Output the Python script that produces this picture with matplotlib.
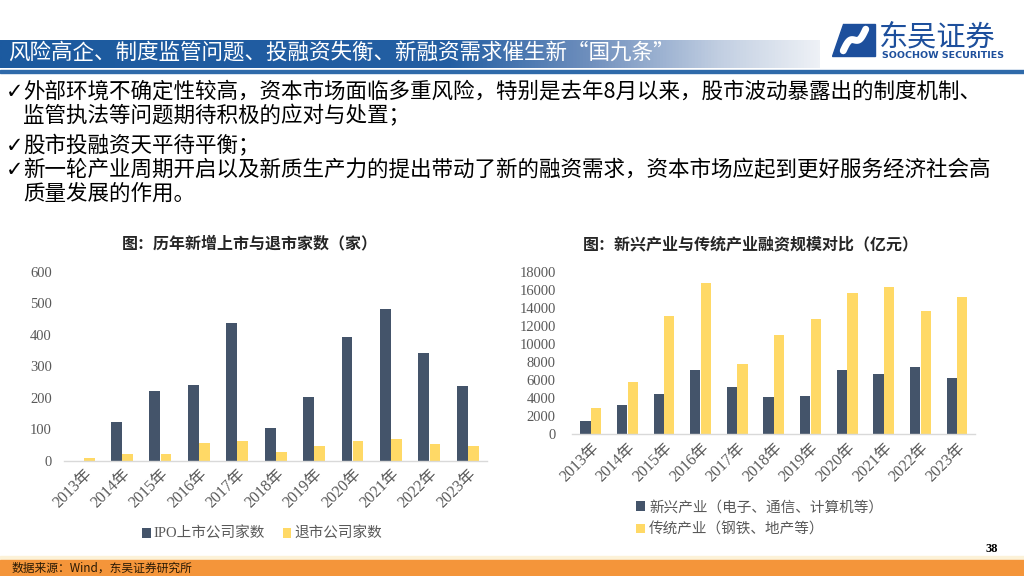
import numpy as np
import matplotlib
matplotlib.use("Agg")
import matplotlib.pyplot as plt
from matplotlib.patches import Rectangle, Polygon
from matplotlib.colors import LinearSegmentedColormap

CJK = ['Noto Sans CJK SC', 'DejaVu Sans']
SERIF_CJK = ['Liberation Serif', 'Noto Sans CJK SC']
plt.rcParams['font.family'] = CJK

# ---------------- data ----------------
years = ['2013年', '2014年', '2015年', '2016年', '2017年', '2018年',
         '2019年', '2020年', '2021年', '2022年', '2023年']
ipo_counts = [0, 124, 220, 240, 436, 103, 201, 394, 481, 341, 236]
delist_counts = [7, 20, 22, 57, 62, 29, 48, 62, 68, 52, 47]
new_industry = [1400, 3200, 4450, 7100, 5250, 4100, 4180, 7100, 6650, 7430, 6250]
trad_industry = [2880, 5730, 13080, 16780, 7730, 10980, 12790, 15640, 16260, 13670, 15190]

left_yticks = [0, 100, 200, 300, 400, 500, 600]
right_yticks = [0, 2000, 4000, 6000, 8000, 10000, 12000, 14000, 16000, 18000]

title_bar = '风险高企、制度监管问题、投融资失衡、新融资需求催生新“国九条”'
bullets = [
    ('✓', '外部环境不确定性较高，资本市场面临多重风险，特别是去年8月以来，股市波动暴露出的制度机制、'),
    ('', '监管执法等问题期待积极的应对与处置；'),
    ('✓', '股市投融资天平待平衡；'),
    ('✓', '新一轮产业周期开启以及新质生产力的提出带动了新的融资需求，资本市场应起到更好服务经济社会高'),
    ('', '质量发展的作用。'),
]
left_title = '图：历年新增上市与退市家数（家）'
right_title = '图：新兴产业与传统产业融资规模对比（亿元）'
left_labels = ['IPO上市公司家数', '退市公司家数']
right_labels = ['新兴产业（电子、通信、计算机等）', '传统产业（钢铁、地产等）']
source_text = '数据来源：Wind，东吴证券研究所'
page_no = '38'

NAVY = '#44546A'
GOLD = '#FFD966'
GRAY = '#595959'

W, H = 1024, 576
fig = plt.figure(figsize=(W / 100, H / 100), dpi=100)
fig.patch.set_facecolor('white')

def fx(px):
    return px / W

def fy(py):
    return 1 - py / H

# ---------------- header bar ----------------
grad_ax = fig.add_axes([0, fy(68), fx(820), 28 / H])
cmap = LinearSegmentedColormap.from_list(
    'bar', [(0, '#1c5a9f'), (0.55, '#245fa3'), (0.72, '#6f8fbd'),
            (0.88, '#c2cfe2'), (1.0, '#eef1f6')])
grad_ax.imshow(np.linspace(0, 1, 512)[None, :], aspect='auto', cmap=cmap,
               extent=[0, 1, 0, 1])
grad_ax.axis('off')
fig.text(fx(8), fy(53), title_bar, color='white', fontsize=15.5,
         va='center', ha='left', family=CJK)
fig.add_artist(Rectangle((0, fy(72.5)), 1, 2.5 / H, transform=fig.transFigure,
                         color='#2f6aaa', zorder=3))

# logo
logo_ax = fig.add_axes([fx(832), fy(58), fx(45), 36 / H])
logo_ax.set_xlim(0, 1)
logo_ax.set_ylim(0, 1)
logo_ax.axis('off')
logo_ax.add_patch(Polygon([(0.0, 0.05), (0.95, 0.05), (0.95, 0.95), (0.25, 0.95)],
                          closed=True, color='#1d4f9c'))
t = np.linspace(0, 1, 100)
sx = 0.25 + 0.5 * t
sy = 0.2 + 0.6 * t + 0.12 * np.sin(2 * np.pi * t)
logo_ax.plot(sx, sy, color='white', lw=5, solid_capstyle='round')
fig.text(fx(879), fy(37), '东吴证券', color='#1d4f9c', fontsize=21,
         va='center', ha='left', family=CJK)
fig.text(fx(882), fy(55), 'SOOCHOW SECURITIES', color='#1d4f9c', fontsize=6.8,
         va='center', ha='left', family=['DejaVu Sans'], fontweight='bold')

# ---------------- bullets ----------------
line_y = [92, 116, 146, 170, 194]
for (mark, txt), yy in zip(bullets, line_y):
    if mark:
        fig.text(fx(6), fy(yy), mark, fontsize=15, va='center', ha='left',
                 family=['DejaVu Sans'], color='black')
    fig.text(fx(23), fy(yy), txt, fontsize=15.5, va='center', ha='left',
             family=CJK, color='black')

# ---------------- charts ----------------
x = np.arange(len(years))
bw = 0.28
off = 0.145
axL = fig.add_axes([fx(64.4), fy(460.7), fx(487 - 64.4), (460.7 - 271.7) / H])
b1 = axL.bar(x - off, ipo_counts, bw, color=NAVY, label=left_labels[0])
b2 = axL.bar(x + off, delist_counts, bw, color=GOLD, label=left_labels[1])
axL.set_xlim(-0.5, len(years) - 0.5)
axL.set_ylim(0, 600)
axL.set_yticks(left_yticks)

axR = fig.add_axes([fx(572.4), fy(434), fx(975.3 - 572.4), (434 - 271.7) / H])
r1 = axR.bar(x - off, new_industry, bw, color=NAVY, label=right_labels[0])
r2 = axR.bar(x + off, trad_industry, bw, color=GOLD, label=right_labels[1])
axR.set_xlim(-0.5, len(years) - 0.5)
axR.set_ylim(0, 18000)
axR.set_yticks(right_yticks)

for ax, pad in ((axL, 9), (axR, 12)):
    for s in ('top', 'right', 'left'):
        ax.spines[s].set_visible(False)
    ax.spines['bottom'].set_color('#d9d9d9')
    ax.spines['bottom'].set_linewidth(1)
    ax.tick_params(axis='both', length=0, colors=GRAY)
    ax.tick_params(axis='y', pad=pad)
    ax.tick_params(axis='x', pad=4)
    ax.set_xticks(x)
    ax.set_xticklabels(years, rotation=45, ha='right', va='top',
                       rotation_mode='anchor', family=SERIF_CJK, fontsize=11.5,
                       color=GRAY)
    for lab in ax.get_yticklabels():
        lab.set_family(['Liberation Serif'])
        lab.set_fontsize(10.5)
        lab.set_color(GRAY)
    ax.set_facecolor('none')

fig.text(fx(250), fy(243), left_title, fontsize=11.5, fontweight='bold',
         ha='center', va='center', family=CJK, color='#262626')
fig.text(fx(751), fy(244), right_title, fontsize=11.5, fontweight='bold',
         ha='center', va='center', family=CJK, color='#262626')

legL = axL.legend(handles=[b1, b2], loc='center', bbox_to_anchor=(0.468, -0.388),
                  ncol=2, frameon=False, handlelength=0.6, handleheight=0.6,
                  handletextpad=0.2, columnspacing=1.2,
                  prop={'family': SERIF_CJK, 'size': 10.5}, labelcolor=GRAY)
legR = axR.legend(handles=[r1, r2], loc='center left', bbox_to_anchor=(0.125, -0.52),
                  ncol=1, frameon=False, handlelength=0.6, handleheight=0.6,
                  handletextpad=0.3, labelspacing=0.55,
                  prop={'family': SERIF_CJK, 'size': 10.5}, labelcolor=GRAY)

# ---------------- footer ----------------
fig.add_artist(Rectangle((0, fy(560)), 1, 4 / H, transform=fig.transFigure,
                         color='#fcf2d8', zorder=1))
fig.add_artist(Rectangle((0, 0), 1, 16 / H, transform=fig.transFigure,
                         color='#F4953A', zorder=1))
fig.text(fx(12), fy(568), source_text, fontsize=8.5, ha='left', va='center',
         family=CJK, color='#2a1a05', zorder=5)
fig.text(fx(992), fy(549), page_no, fontsize=9, ha='center', va='center',
         family=['Liberation Serif'], fontweight='bold', color='black')

fig.savefig('out.png', dpi=100)
